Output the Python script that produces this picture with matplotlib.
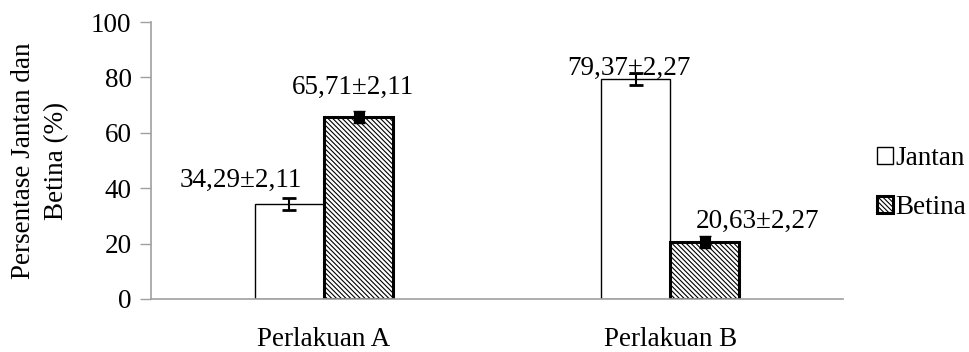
import matplotlib
matplotlib.use("Agg")
import matplotlib.pyplot as plt
import numpy as np

plt.rcParams['font.family'] = ['Liberation Serif', 'DejaVu Serif']
plt.rcParams['hatch.linewidth'] = 0.8

# Data
categories = ["Perlakuan A", "Perlakuan B"]
jantan = [34.29, 79.37]
jantan_err = [2.11, 2.27]
betina = [65.71, 20.63]
betina_err = [2.11, 2.27]
series_names = ["Jantan", "Betina"]

fig = plt.figure(figsize=(9.69, 3.52), dpi=100)
ax = fig.add_axes([0.1558, 0.1506, 0.7144, 0.7869])

x = np.arange(len(categories))
w = 0.2
FS = 19.5

b1 = ax.bar(x - w / 2, jantan, w, color='white', edgecolor='black', linewidth=1.0,
            label=series_names[0], zorder=2)
b2 = ax.bar(x + w / 2, betina, w, color='white', edgecolor='black', linewidth=2.2,
            hatch='\\' * 7, label=series_names[1], zorder=2)

ax.errorbar(x - w / 2, jantan, yerr=jantan_err, fmt='none', ecolor='black',
            elinewidth=1.5, capsize=5, capthick=2, zorder=3)
ax.errorbar(x + w / 2, betina, yerr=betina_err, fmt='none', ecolor='black',
            elinewidth=8, capsize=4, capthick=1, zorder=3)

# value labels (offsets in points relative to bar top)
j_offsets = [(-35, 8), (-5, -1)]
b_offsets = [(-4, 12), (38, 6)]
for i in range(len(categories)):
    ax.annotate(f"{jantan[i]:.2f}±{jantan_err[i]:.2f}".replace('.', ','),
                (x[i] - w / 2, jantan[i]), xytext=j_offsets[i],
                textcoords='offset points', ha='center', va='bottom', fontsize=FS)
    ax.annotate(f"{betina[i]:.2f}±{betina_err[i]:.2f}".replace('.', ','),
                (x[i] + w / 2, betina[i]), xytext=b_offsets[i],
                textcoords='offset points', ha='center', va='bottom', fontsize=FS)

ax.set_xlim(-0.5, 1.5)
ax.set_ylim(0, 100)
ax.set_yticks(range(0, 101, 20))
ax.set_xticks(x)
ax.set_xticklabels(categories, fontsize=FS)
ax.tick_params(axis='y', labelsize=FS, length=8, width=1, color='#a0a0a0', pad=6)
ax.tick_params(axis='x', length=0, pad=20)

for s in ['top', 'right']:
    ax.spines[s].set_visible(False)
for s in ['left', 'bottom']:
    ax.spines[s].set_color('#a0a0a0')
    ax.spines[s].set_linewidth(1.2)

ax.set_ylabel("Persentase Jantan dan\nBetina (%)", fontsize=FS, linespacing=1.4, labelpad=16)

leg = fig.legend(handles=[b1, b2], labels=series_names, loc='center left',
                 bbox_to_anchor=(0.88, 0.48), frameon=False, fontsize=FS,
                 handlelength=0.6, handleheight=0.6, handletextpad=0.08,
                 labelspacing=0.9)

fig.savefig("out.png", dpi=100)
